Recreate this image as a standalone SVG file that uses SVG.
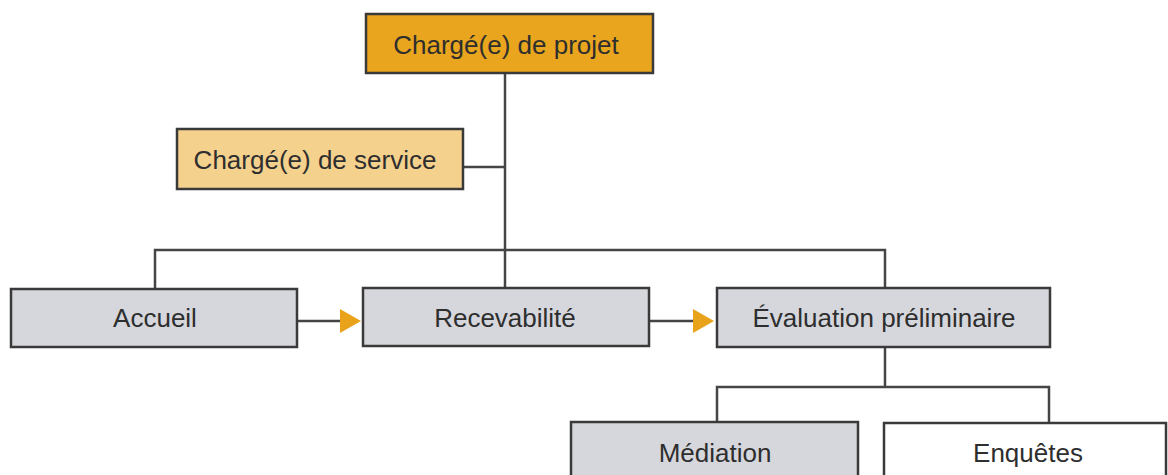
<svg xmlns="http://www.w3.org/2000/svg" width="1168" height="475" viewBox="0 0 1168 475">
<style>
.box{stroke:#3a3a3a;stroke-width:2.5}
.gray{fill:#d6d7dc}
.lbl{font-family:"Liberation Sans",Arial,sans-serif;font-size:26px;fill:#2e2e2e;text-anchor:middle}
.ln{stroke:#454545;stroke-width:2.5;fill:none}
.ar{fill:#e8a31b}
</style>
<rect width="1168" height="475" fill="#ffffff"/>
<g id="connectors">
<line class="ln" x1="505" y1="73" x2="505" y2="288"/>
<line class="ln" x1="463" y1="167" x2="505" y2="167"/>
<polyline class="ln" points="155,289 155,250 885,250 885,288"/>
<line class="ln" x1="885" y1="347" x2="885" y2="387"/>
<polyline class="ln" points="717,422 717,387 1049,387 1049,422"/>
<line class="ln" x1="297" y1="321" x2="342" y2="321"/>
<polygon class="ar" points="340,309 361,321 340,333"/>
<line class="ln" x1="649" y1="321" x2="695" y2="321"/>
<polygon class="ar" points="693,309 714,321 693,333"/>
</g>
<g id="projet">
<rect class="box" x="366" y="14" width="287" height="59" fill="#e8a51d"/>
<text class="lbl" x="506" y="54">Chargé(e) de projet</text>
</g>
<g id="service">
<rect class="box" x="177" y="129" width="286" height="60" fill="#f5d18e"/>
<text class="lbl" x="315" y="169">Chargé(e) de service</text>
</g>
<g id="accueil">
<rect class="box gray" x="11" y="289" width="286" height="58"/>
<text class="lbl" x="155" y="327">Accueil</text>
</g>
<g id="recevabilite">
<rect class="box gray" x="363" y="288" width="286" height="58"/>
<text class="lbl" x="505" y="327">Recevabilité</text>
</g>
<g id="evaluation">
<rect class="box gray" x="717" y="288" width="333" height="59"/>
<text class="lbl" x="884" y="327">Évaluation préliminaire</text>
</g>
<g id="mediation">
<rect class="box gray" x="571" y="422" width="287" height="70"/>
<text class="lbl" x="715" y="462">Médiation</text>
</g>
<g id="enquetes">
<rect class="box" x="884" y="423" width="282" height="70" fill="#ffffff"/>
<text class="lbl" x="1028" y="462">Enquêtes</text>
</g>
</svg>
